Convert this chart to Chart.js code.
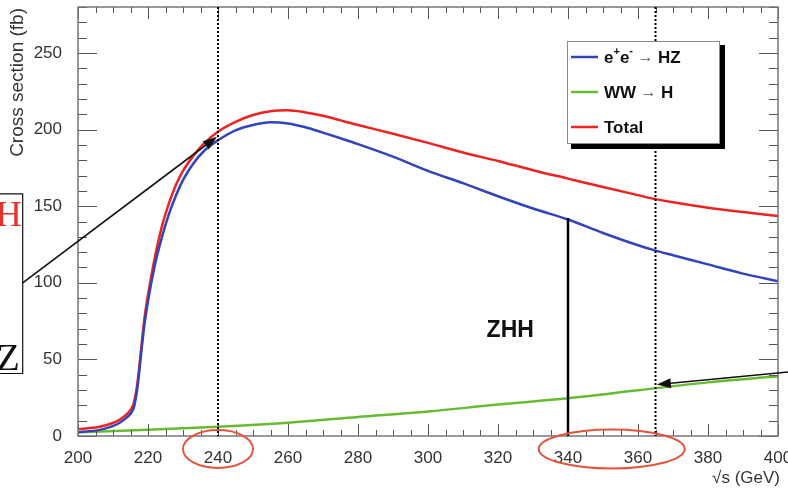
<!DOCTYPE html>
<html>
<head>
<meta charset="utf-8">
<script src="https://cdn.jsdelivr.net/npm/chart.js@4.4.1/dist/chart.umd.min.js"></script>
<style>
  html, body { margin: 0; padding: 0; background: #fff; }
  #xs { display: block; }
</style>
</head>
<body>
<canvas id="xs" width="788" height="488"></canvas>
<script>
// sqrt(s) en GeV
const energies = [200, 205, 208, 211, 213, 215, 216, 217, 218, 219,
  220, 222, 224, 226, 228, 230, 233, 236, 240, 245,
  250, 255, 260, 265, 270, 275, 280, 290, 300, 310,
  320, 330, 340, 350, 360, 365, 370, 380, 390, 400];

// sections efficaces (fb)
const sigmaHZ = [2.5, 3.5, 5, 7.5, 10.5, 14.5, 19, 32, 53, 73,
  88, 112, 130, 145, 157, 167, 178, 186, 193, 199.5,
  203, 204.7, 204, 201.5, 198, 194.3, 190.5, 182.3, 173, 165,
  156.5, 148.5, 141.3, 132.5, 124.5, 121, 118, 112, 106, 101];

const sigmaTotal = [4.5, 5.5, 7, 9.5, 12.5, 17, 22, 35, 56, 77,
  92, 117, 137, 152, 164, 173, 183, 191, 198.6, 205,
  209.5, 212, 212.6, 211.2, 209, 206, 203, 197.3, 191.3, 185,
  179.5, 173.5, 168, 162.5, 157.2, 154.6, 152.5, 149, 146.2, 143.6];

const wwEnergies = [200, 220, 240, 260, 280, 300, 320, 340, 360, 380, 400];
const sigmaWW = [2.5, 4, 6, 8.7, 12.4, 16, 20.5, 24.6, 29.8, 35, 39];

const seriesLabels = ["e⁺e⁻ → HZ", "WW → H", "Total"];
const seriesColors = ["#3344bb", "#66bb33", "#ee2222"];

// lignes verticales pointillées (GeV)
const markers = [240, 365];
// seuil ZHH
const zhhEnergy = 340;

const FONT = "'Liberation Sans', Arial, Helvetica, sans-serif";
const SERIF = "'Liberation Serif', 'Times New Roman', serif";

function toPoints(xs, ys) {
  return xs.map((x, i) => ({ x: x, y: ys[i] }));
}

function arrow(ctx, x0, y0, x1, y1) {
  const a = Math.atan2(y1 - y0, x1 - x0);
  const len = 14, half = 5;
  ctx.beginPath();
  ctx.moveTo(x0, y0);
  ctx.lineTo(x1 - Math.cos(a) * len * 0.8, y1 - Math.sin(a) * len * 0.8);
  ctx.stroke();
  ctx.beginPath();
  ctx.moveTo(x1, y1);
  ctx.lineTo(x1 - Math.cos(a) * len - Math.sin(a) * half, y1 - Math.sin(a) * len + Math.cos(a) * half);
  ctx.lineTo(x1 - Math.cos(a) * len + Math.sin(a) * half, y1 - Math.sin(a) * len - Math.cos(a) * half);
  ctx.closePath();
  ctx.fill();
}

function drawRich(ctx, parts, x, y) {
  parts.forEach((p) => {
    ctx.font = p.font;
    ctx.fillStyle = p.color || "#111";
    ctx.fillText(p.t, x, y - (p.rise || 0));
    x += ctx.measureText(p.t).width;
  });
}

// Style ROOT : cadre, graduations internes, annotations
const rootStyle = {
  id: "rootStyle",
  afterDatasetsDraw(chart) {
    const ctx = chart.ctx;
    const a = chart.chartArea;
    const xs = chart.scales.x, ys = chart.scales.y;
    ctx.save();

    // graduations
    ctx.strokeStyle = "#555";
    ctx.lineWidth = 1;
    ctx.beginPath();
    for (let v = 200; v <= 400; v += 5) {
      const px = Math.round(xs.getPixelForValue(v)) + 0.5;
      const l = v % 20 === 0 ? 12 : 6;
      ctx.moveTo(px, a.bottom); ctx.lineTo(px, a.bottom - l);
      ctx.moveTo(px, a.top); ctx.lineTo(px, a.top + l);
    }
    for (let v = 0; v <= 280; v += 10) {
      const py = Math.round(ys.getPixelForValue(v)) + 0.5;
      const l = v % 50 === 0 ? 19 : 9;
      ctx.moveTo(a.left, py); ctx.lineTo(a.left + l, py);
      ctx.moveTo(a.right, py); ctx.lineTo(a.right - l, py);
    }
    ctx.stroke();

    // cadre
    ctx.strokeStyle = "#777";
    ctx.lineWidth = 1.5;
    ctx.strokeRect(a.left, a.top, a.right - a.left, a.bottom - a.top);

    // lignes pointillées
    ctx.strokeStyle = "#000";
    ctx.lineWidth = 2;
    ctx.setLineDash([2, 2]);
    markers.forEach((m) => {
      const px = xs.getPixelForValue(m);
      ctx.beginPath();
      ctx.moveTo(px, a.top);
      ctx.lineTo(px, a.bottom);
      ctx.stroke();
    });
    ctx.setLineDash([]);

    // seuil ZHH
    const zx = xs.getPixelForValue(zhhEnergy);
    const zTop = ys.getPixelForValue(sigmaHZ[energies.indexOf(zhhEnergy)] + 1);
    ctx.lineWidth = 2.5;
    ctx.beginPath();
    ctx.moveTo(zx, zTop);
    ctx.lineTo(zx, a.bottom);
    ctx.stroke();
    ctx.fillStyle = "#111";
    ctx.font = "bold 23px " + FONT;
    ctx.textAlign = "center";
    ctx.textBaseline = "middle";
    ctx.fillText("ZHH", xs.getPixelForValue(323.5), ys.getPixelForValue(69));

    // flèches
    ctx.lineWidth = 1.6;
    ctx.strokeStyle = "#111";
    ctx.fillStyle = "#111";
    arrow(ctx, xs.getPixelForValue(184.2), ys.getPixelForValue(100),
      xs.getPixelForValue(239.7), ys.getPixelForValue(195.3));
    arrow(ctx, xs.getPixelForValue(403), ys.getPixelForValue(41.8),
      xs.getPixelForValue(365.4), ys.getPixelForValue(33.6));

    // encadré à gauche
    const bx = xs.getPixelForValue(184.2);
    const bTop = ys.getPixelForValue(158);
    const bBot = ys.getPixelForValue(40.8);
    ctx.lineWidth = 1.2;
    ctx.strokeStyle = "#111";
    ctx.beginPath();
    ctx.moveTo(-2, bTop);
    ctx.lineTo(bx, bTop);
    ctx.lineTo(bx, bBot);
    ctx.lineTo(-2, bBot);
    ctx.stroke();
    ctx.textAlign = "right";
    ctx.textBaseline = "alphabetic";
    ctx.font = "36px " + SERIF;
    ctx.fillStyle = "#e8302a";
    ctx.fillText("H", bx - 1, bTop + 32);
    ctx.font = "38px " + SERIF;
    ctx.fillStyle = "#111";
    ctx.fillText("Z", bx - 3, bBot - 3);

    // ellipses rouges
    ctx.strokeStyle = "#e5533d";
    ctx.lineWidth = 2;
    ctx.beginPath();
    ctx.ellipse(xs.getPixelForValue(240), 449, 35, 19, 0, 0, Math.PI * 2);
    ctx.stroke();
    ctx.beginPath();
    ctx.ellipse(xs.getPixelForValue(352.5), 449, 73, 19.5, 0, 0, Math.PI * 2);
    ctx.stroke();

    // légende
    const lx = 567, ly = 41, lw = 152, lh = 102;
    ctx.fillStyle = "#000";
    ctx.fillRect(lx + 4, ly + 4, lw + 2, lh + 2);
    ctx.fillStyle = "#fff";
    ctx.fillRect(lx, ly, lw, lh);
    ctx.strokeStyle = "#888";
    ctx.lineWidth = 1;
    ctx.strokeRect(lx + 0.5, ly + 0.5, lw, lh);
    const rows = [57, 92, 127];
    const bold = "bold 17px " + FONT;
    const sup = "bold 11px " + FONT;
    const thin = "16px " + FONT;
    const texts = [
      [{ t: "e", font: bold }, { t: "+", font: sup, rise: 6 }, { t: "e", font: bold }, { t: "-", font: sup, rise: 7 },
        { t: " → ", font: thin, color: "#555" }, { t: "HZ", font: bold }],
      [{ t: "WW", font: bold }, { t: " → ", font: thin, color: "#555" }, { t: "H", font: bold }],
      [{ t: "Total", font: bold }]
    ];
    ctx.textAlign = "left";
    ctx.textBaseline = "middle";
    rows.forEach((ry, i) => {
      ctx.strokeStyle = seriesColors[i];
      ctx.lineWidth = 2.5;
      ctx.beginPath();
      ctx.moveTo(571, ry);
      ctx.lineTo(598, ry);
      ctx.stroke();
      drawRich(ctx, texts[i], 604, ry + 1);
    });

    // titres des axes
    ctx.fillStyle = "#333";
    ctx.font = "17px " + FONT;
    ctx.textAlign = "right";
    ctx.textBaseline = "middle";
    ctx.fillText("√s (GeV)", a.right + 2, 478);
    ctx.translate(18, a.top + 1);
    ctx.rotate(-Math.PI / 2);
    ctx.font = "19px " + FONT;
    ctx.fillText("Cross section (fb)", 0, 0);

    ctx.restore();
  }
};

const ctx = document.getElementById("xs").getContext("2d");
const chart = new Chart(ctx, {
  type: "line",
  data: {
    datasets: [
      { label: seriesLabels[0], data: toPoints(energies, sigmaHZ), borderColor: seriesColors[0] },
      { label: seriesLabels[1], data: toPoints(wwEnergies, sigmaWW), borderColor: seriesColors[1] },
      { label: seriesLabels[2], data: toPoints(energies, sigmaTotal), borderColor: seriesColors[2] }
    ]
  },
  options: {
    responsive: false,
    animation: false,
    layout: { padding: { top: 7, right: 10, left: 0, bottom: 0 } },
    elements: {
      line: { borderWidth: 2.5, cubicInterpolationMode: "monotone", fill: false },
      point: { radius: 0 }
    },
    plugins: { legend: { display: false }, tooltip: { enabled: false } },
    scales: {
      x: {
        type: "linear",
        min: 200,
        max: 400,
        grid: { display: false },
        border: { display: false },
        ticks: { stepSize: 20, padding: 4, color: "#333", font: { family: FONT, size: 17 }, maxRotation: 0, autoSkip: false },
        afterFit: (s) => { s.height = 52; s.paddingLeft = 0; s.paddingRight = 0; }
      },
      y: {
        min: 0,
        max: 280,
        grid: { display: false },
        border: { display: false },
        ticks: { stepSize: 50, padding: 8, color: "#333", font: { family: FONT, size: 17 } },
        afterBuildTicks: (s) => { s.ticks = s.ticks.filter((t) => t.value % 50 === 0); },
        afterFit: (s) => { s.width = 78; s.paddingTop = 0; s.paddingBottom = 0; }
      }
    }
  },
  plugins: [rootStyle]
});
</script>
</body>
</html>
